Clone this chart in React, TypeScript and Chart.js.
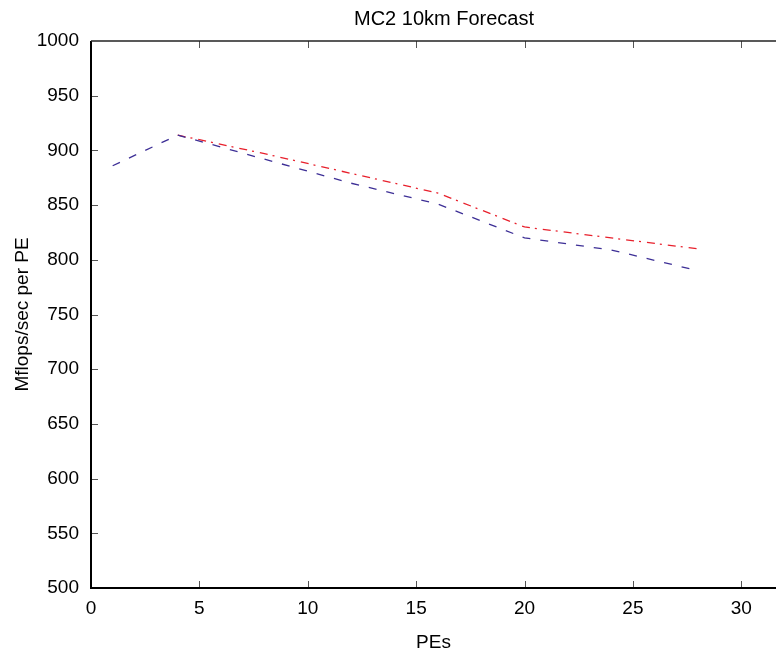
import React, { useEffect, useRef } from "react";
import { Chart, registerables } from "chart.js";

Chart.register(...registerables);

const pesBlue = [1, 4, 8, 12, 16, 20, 24, 28];
const mflopsBlue = [886, 914, 892, 870, 851, 820, 809, 790];
const pesRed = [4, 8, 12, 16, 20, 24, 28];
const mflopsRed = [914, 897, 879, 861, 830, 820, 810];
const xTickValues = [0, 5, 10, 15, 20, 25, 30];
const yTickValues = [500, 550, 600, 650, 700, 750, 800, 850, 900, 950, 1000];
const chartTitle = "MC2 10km Forecast";

const FONT = "'Liberation Sans', Arial, sans-serif";

const framePlugin = {
  id: "frame",
  afterDraw(chart: any) {
    const { ctx, chartArea } = chart;
    const xs = chart.scales.x;
    const ys = chart.scales.y;
    const { left, top, right, bottom } = chartArea;
    ctx.save();
    // title
    ctx.fillStyle = "#000";
    ctx.font = `20px ${FONT}`;
    ctx.textAlign = "center";
    ctx.textBaseline = "middle";
    ctx.fillText(chartTitle, 444, 19);
    // ticks
    ctx.strokeStyle = "#555";
    ctx.lineWidth = 1;
    xTickValues.forEach((v) => {
      if (v === 0) return;
      const px = Math.round(xs.getPixelForValue(v)) + 0.5;
      ctx.beginPath();
      ctx.moveTo(px, bottom);
      ctx.lineTo(px, bottom - 7);
      ctx.moveTo(px, top);
      ctx.lineTo(px, top + 7);
      ctx.stroke();
    });
    yTickValues.forEach((v) => {
      if (v === 500 || v === 1000) return;
      const py = Math.round(ys.getPixelForValue(v)) + 0.5;
      ctx.beginPath();
      ctx.moveTo(left, py);
      ctx.lineTo(left + 7, py);
      ctx.stroke();
    });
    // frame
    ctx.strokeStyle = "#000";
    ctx.lineWidth = 2;
    ctx.beginPath();
    ctx.moveTo(left, top);
    ctx.lineTo(left, bottom);
    ctx.lineTo(right, bottom);
    ctx.stroke();
    ctx.strokeStyle = "#222";
    ctx.lineWidth = 1.5;
    ctx.beginPath();
    ctx.moveTo(left, top);
    ctx.lineTo(right, top);
    ctx.stroke();
    ctx.restore();
  },
};

export default function App() {
  const ref = useRef<HTMLCanvasElement>(null);
  useEffect(() => {
    if (!ref.current) return;
    const chart = new Chart(ref.current, {
      type: "line",
      data: {
        datasets: [
          {
            label: "blue",
            data: pesBlue.map((x, i) => ({ x, y: mflopsBlue[i] })),
            borderColor: "#3d2f96",
            borderWidth: 1.3,
            borderDash: [8, 10],
            pointRadius: 0,
            fill: false,
            tension: 0,
          },
          {
            label: "red",
            data: pesRed.map((x, i) => ({ x, y: mflopsRed[i] })),
            borderColor: "#e8202c",
            borderWidth: 1.3,
            borderDash: [8, 5, 2, 6],
            pointRadius: 0,
            fill: false,
            tension: 0,
          },
        ],
      },
      options: {
        responsive: false,
        animation: false,
        layout: { padding: { left: 0, right: 0, top: 41, bottom: 0 } },
        plugins: {
          legend: { display: false },
          tooltip: { enabled: false },
          title: { display: false },
        },
        scales: {
          x: {
            type: "linear",
            min: 0,
            max: 31.6,
            grid: { display: false },
            border: { display: false },
            afterBuildTicks(scale: any) {
              scale.ticks = xTickValues.map((v) => ({ value: v }));
            },
            ticks: {
              color: "#000",
              font: { family: FONT, size: 19 },
              padding: 1,
              maxRotation: 0,
              autoSkip: false,
              callback: (v: any) => String(v),
            },
            title: {
              display: true,
              text: "PEs",
              color: "#000",
              font: { family: FONT, size: 19 },
              padding: { top: 10, bottom: 1 },
            },
            afterFit(scale: any) {
              scale.height = 67;
            },
          },
          y: {
            type: "linear",
            min: 500,
            max: 1000,
            grid: { display: false },
            border: { display: false },
            afterBuildTicks(scale: any) {
              scale.ticks = yTickValues.map((v) => ({ value: v }));
            },
            ticks: {
              color: "#000",
              font: { family: FONT, size: 19 },
              padding: 4,
              autoSkip: false,
              callback: (v: any) => String(v),
            },
            title: {
              display: true,
              text: "Mflops/sec per PE",
              color: "#000",
              font: { family: FONT, size: 19 },
              padding: { top: 11, bottom: 0 },
            },
            afterFit(scale: any) {
              scale.width = 91;
            },
          },
        },
      },
      plugins: [framePlugin],
    });
    return () => chart.destroy();
  }, []);
  return (
    <div style={{ position: "absolute", left: 0, top: 0, width: 776, height: 655, background: "#fff" }}>
      <canvas ref={ref} width={776} height={655} />
    </div>
  );
}
